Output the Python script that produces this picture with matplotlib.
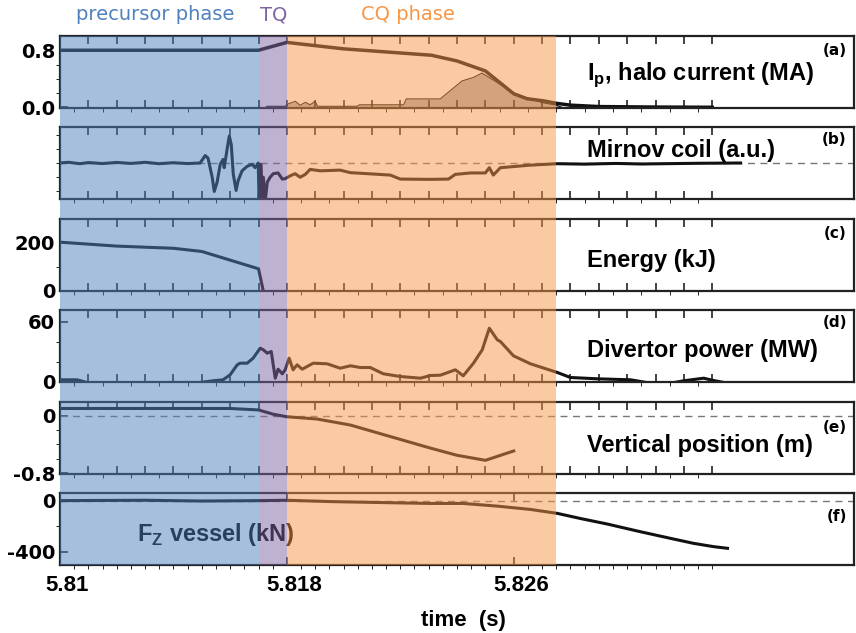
import numpy as np
import matplotlib
matplotlib.use("Agg")
import matplotlib.pyplot as plt
from matplotlib.transforms import ScaledTranslation

# ---- data ----
# (a) plasma current and halo current (MA)
t_ip = [5.8100, 5.8170, 5.8180, 5.8200, 5.8231, 5.8240, 5.8250, 5.8260,
        5.82647, 5.82706, 5.8275, 5.8280, 5.8290, 5.8310, 5.8330]
ip = [0.80, 0.80, 0.91, 0.82, 0.73, 0.65, 0.51, 0.19,
      0.12, 0.09, 0.056, 0.03, 0.01, 0.003, 0.0]

t_halo = [5.81700, 5.81706, 5.81712, 5.81730, 5.81794, 5.81806, 5.81830,
          5.81847, 5.81865, 5.81882, 5.81900, 5.81908, 5.82047, 5.82056,
          5.82212, 5.82221, 5.82341, 5.82418, 5.82459, 5.82488, 5.82541,
          5.82600, 5.82647, 5.82706, 5.82750, 5.82770]
halo = [0.0, -0.02, -0.056, 0.014, 0.014, 0.05, 0.084, 0.028, 0.07, 0.035,
        0.084, 0.014, 0.014, 0.035, 0.035, 0.118, 0.118, 0.37, 0.42, 0.48,
        0.35, 0.20, 0.13, 0.06, 0.03, 0.0]

# (b) Mirnov coil (a.u.)
t_mir = [5.8100, 5.8103, 5.8107, 5.8110, 5.8115, 5.8120, 5.8125, 5.8130,
         5.8135, 5.8140, 5.8145, 5.81494, 5.81512, 5.81522, 5.81537,
         5.81544, 5.81554, 5.81565, 5.81575, 5.81579, 5.81589, 5.81597,
         5.81604, 5.81611, 5.81621, 5.81628, 5.81642, 5.81660, 5.81678,
         5.81688, 5.81695, 5.81699, 5.81702, 5.81709, 5.81713, 5.81717,
         5.81724, 5.81731, 5.81741, 5.81752, 5.81769, 5.81784, 5.81794,
         5.81812, 5.81829, 5.81847, 5.81865, 5.81882, 5.81918, 5.81988,
         5.82024, 5.82084, 5.82165, 5.82200, 5.82306, 5.82370, 5.82394,
         5.82447, 5.82500, 5.82514, 5.82528, 5.82553, 5.82659, 5.82754,
         5.82850, 5.82960, 5.83050, 5.83128, 5.83250, 5.83400]
mirnov = [0.00, 0.05, -0.05, 0.03, -0.04, 0.04, -0.03, 0.05,
          -0.05, 0.02, -0.04, 0.0, 0.52, 0.35, -1.03,
          -2.0, -1.35, -0.1, 0.25, -0.33, 0.93, 1.9,
          1.28, -0.78, -1.93, -1.25, -0.55, -0.23, -0.1,
          -0.33, -0.13, 0.0, -2.6, -0.1, -2.6, -1.0,
          -2.6, -1.35, -1.0, -0.75, -0.7, -1.13, -1.1,
          -0.9, -0.75, -1.0, -0.8, -0.45, -0.55, -0.5,
          -0.68, -0.75, -0.85, -1.13, -1.15, -1.13, -0.8,
          -0.7, -0.7, -0.33, -0.85, -0.33, -0.15, -0.05,
          -0.08, -0.03, -0.07, -0.05, -0.02, 0.0]

# (c) stored energy (kJ)
t_en = [5.8100, 5.8120, 5.8140, 5.8150, 5.8170, 5.81717]
energy = [200, 184, 175, 162, 91, 0]

# (d) divertor power (MW)
t_div = [5.8100, 5.8106, 5.81095, 5.81176, 5.81258, 5.81293, 5.81378,
         5.81494, 5.8154, 5.81575, 5.8160, 5.81625, 5.81635, 5.8166,
         5.81681, 5.81706, 5.81717, 5.81731, 5.81745, 5.81759, 5.81769,
         5.81784, 5.81794, 5.81808, 5.81822, 5.81836, 5.81854, 5.81893,
         5.81942, 5.81988, 5.82024, 5.82059, 5.82094, 5.8214, 5.822,
         5.82271, 5.82306, 5.82341, 5.82394, 5.82422, 5.82458, 5.82489,
         5.82514, 5.82542, 5.82553, 5.82599, 5.82659, 5.82754, 5.8280,
         5.82895, 5.83012, 5.83083, 5.83153, 5.83199, 5.8327, 5.83305,
         5.83354]
div_power = [1.7, 1.7, -1.0, -2.3, -1.7, -3.0, -1.0,
             -1.0, 0.7, 1.7, 6.7, 16.7, 18.3, 18.3,
             23.3, 33.3, 31.7, 28.3, 30.0, 3.3, 12.3,
             7.7, 11.7, 23.3, 11.7, 16.7, 12.3, 18.3,
             17.7, 13.3, 15.7, 14.0, 14.0, 7.7, 5.0,
             3.3, 6.0, 6.3, 11.7, 5.7, 18.3, 31.7,
             53.3, 41.7, 40.0, 25.7, 17.7, 9.0, 4.0,
             2.7, 1.7, -1.7, -1.7, 0.7, 3.3, 1.0,
             -1.7]

# (e) vertical position (m)
t_z = [5.8100, 5.8160, 5.8170, 5.81752, 5.8180, 5.81906, 5.82024,
       5.82306, 5.8240, 5.8250, 5.8260]
zpos = [0.10, 0.10, 0.08, 0.02, -0.015, -0.046, -0.13,
        -0.45, -0.55, -0.62, -0.49]

# (f) vertical force on vessel (kN)
t_fz = [5.8100, 5.8130, 5.8150, 5.8170, 5.8180, 5.81964, 5.82306, 5.82422,
        5.82542, 5.82659, 5.82754, 5.82835, 5.82931, 5.83037, 5.83153,
        5.83234, 5.83305, 5.83354]
fz = [0, 3, -3, 0, 3, -8, -22, -22,
      -43, -69, -100, -140, -184, -239, -296,
      -335, -361, -374]

phases = [("precursor phase", 5.8100, 5.8170, "#4F81BD"),
          ("TQ", 5.8170, 5.8180, "#8064A2"),
          ("CQ phase", 5.8180, 5.8275, "#F79646")]

panel_text = ["I$_\\mathregular{p}$, halo current (MA)", "Mirnov coil (a.u.)",
              "Energy (kJ)", "Divertor power (MW)", "Vertical position (m)", ""]
panel_tag = ["(a)", "(b)", "(c)", "(d)", "(e)", "(f)"]

# ---- figure ----
W, H = 856, 633
fig = plt.figure(figsize=(W / 100, H / 100), dpi=100)
xl, xr = 60, 854
xlim = (5.8100, 5.8380)
tops = [36, 127, 219, 310, 402, 493]
ph = 72

axes = []
for top in tops:
    ax = fig.add_axes([xl / W, 1 - (top + ph) / H, (xr - xl) / W, ph / H])
    ax.set_facecolor("none")
    ax.set_xlim(*xlim)
    for s in ax.spines.values():
        s.set_linewidth(1.6)
        s.set_color("#222222")
    ax.tick_params(direction="in", top=True, right=False, width=1.2,
                   colors="#222222", labelcolor="black")
    ax.tick_params(which="major", length=6)
    ax.tick_params(which="minor", length=3)
    maj = np.round(np.arange(5.810, 5.8331, 0.001), 4)
    ax.set_xticks(maj)
    ax.set_xticks(np.round(np.arange(5.8105, 5.8330, 0.001), 4), minor=True)
    ax.set_xticklabels([])
    axes.append(ax)

ytf = dict(fontsize=14, fontweight="bold", family="DejaVu Sans")
lw = 2.2
col = "#111111"

# (a)
ax = axes[0]
ax.plot(t_ip, ip, color=col, lw=lw + 0.3)
ax.fill_between(t_halo, 0, halo, color="black", alpha=0.3, lw=0)
ax.plot(t_halo, halo, color=col, lw=0.8)
ax.set_ylim(-0.01, 1.0)
ax.set_yticks([0.0, 0.8])
ax.set_yticks([0.2, 0.4, 0.6], minor=True)
ax.set_yticklabels(["0.0", "0.8"], **ytf)

# (b)
ax = axes[1]
ax.axhline(0, color="#777777", lw=1, ls=(0, (5, 4)))
ax.plot(t_mir, mirnov, color=col, lw=lw)
ax.set_ylim(-2.53, 2.53)
ax.set_yticks([])
ax.set_yticks([-2, -1, 0, 1, 2], minor=True)

# (c)
ax = axes[2]
ax.plot(t_en, energy, color=col, lw=lw)
ax.set_ylim(0, 295)
ax.set_yticks([0, 200])
ax.set_yticks([100], minor=True)
ax.set_yticklabels(["0", "200"], **ytf)

# (d)
ax = axes[3]
ax.plot(t_div, div_power, color=col, lw=lw)
ax.set_ylim(-0.5, 71.5)
ax.set_yticks([0, 60])
ax.set_yticks([20, 40], minor=True)
ax.set_yticklabels(["0", "60"], **ytf)

# (e)
ax = axes[4]
ax.axhline(0, color="#777777", lw=1, ls=(0, (5, 4)))
ax.plot(t_z, zpos, color=col, lw=lw)
ax.set_ylim(-0.81, 0.19)
ax.set_yticks([-0.8, 0])
ax.set_yticks([-0.6, -0.4, -0.2], minor=True)
ax.set_yticklabels(["-0.8", "0"], **ytf)

# (f)
ax = axes[5]
ax.axhline(0, color="#777777", lw=1, ls=(0, (5, 4)))
ax.plot(t_fz, fz, color=col, lw=lw)
ax.set_ylim(-505, 60)
ax.set_yticks([-400, 0])
ax.set_yticks([-200], minor=True)
ax.set_yticklabels(["-400", "0"], **ytf)
ax.set_xticks([5.810, 5.818, 5.826])
ax.set_xticklabels(["5.81", "5.818", "5.826"], fontsize=16,
                   fontweight="bold", family="Liberation Sans")
ax.set_xticks(np.round(np.arange(5.8105, 5.8331, 0.0005), 4), minor=True)
ax.tick_params(axis="x", which="major", pad=7)
shift = ScaledTranslation(0.07, 0, fig.dpi_scale_trans)
for lab in ax.get_xticklabels():
    lab.set_transform(lab.get_transform() + shift)
ax.set_xlabel("time  (s)", fontsize=16, fontweight="bold",
              family="Liberation Sans")
ax.xaxis.set_label_coords(0.5075, -0.62)
ax.text(0.097, 0.42, "F$_\\mathregular{Z}$ vessel (kN)", transform=ax.transAxes,
        fontsize=17, fontweight="bold", family="Liberation Sans",
        ha="left", va="center", color="black")

# panel labels and tags
txt_y = [0.47, 0.68, 0.43, 0.44, 0.40, 0.42]
tag_y = [0.80, 0.82, 0.80, 0.82, 0.64, 0.67]
for ax, s, ty, g, gy in zip(axes, panel_text, txt_y, panel_tag, tag_y):
    if s:
        ax.text(0.664, ty, s, transform=ax.transAxes, fontsize=17,
                fontweight="bold", family="Liberation Sans",
                ha="left", va="center")
    ax.text(0.991, gy, g, transform=ax.transAxes, fontsize=11,
            fontweight="bold", family="DejaVu Sans", ha="right", va="center")

# translucent phase overlay on top of everything
ov = fig.add_axes([xl / W, 1 - 565 / H, (xr - xl) / W, (565 - 36) / H])
ov.set_xlim(*xlim)
ov.set_ylim(0, 1)
ov.axis("off")
ov.patch.set_alpha(0)
for name, t0, t1, c in phases:
    ov.axvspan(t0, t1, color=c, alpha=0.5, lw=0)

fig.text(155 / W, 1 - 15 / H, "precursor phase", color="#4F81BD",
         fontsize=14, ha="center", va="center")
fig.text(274 / W, 1 - 15 / H, "TQ", color="#8064A2",
         fontsize=14, ha="center", va="center")
fig.text(408 / W, 1 - 15 / H, "CQ phase", color="#F79646",
         fontsize=14, ha="center", va="center")

fig.savefig("out.png", dpi=100)
